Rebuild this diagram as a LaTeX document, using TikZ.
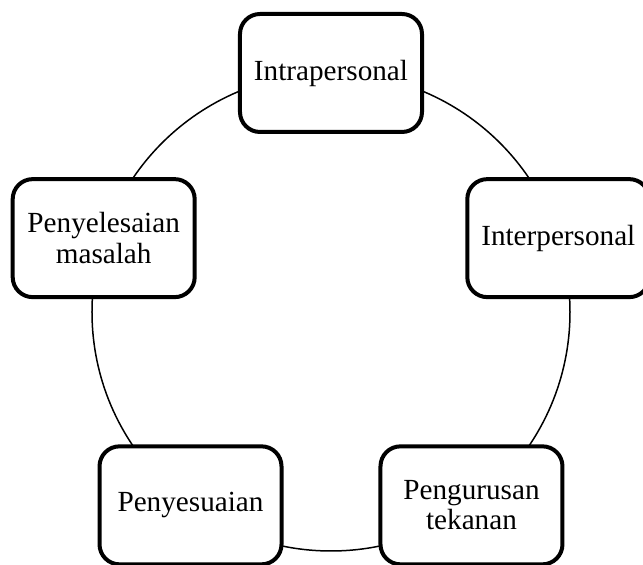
\documentclass[tikz,border=0pt]{standalone}
\usepackage{fontspec}
\setmainfont{Liberation Serif}
\usepackage{tikz}
\usetikzlibrary{positioning}
\tikzset{
    skill/.style={draw=black, fill=white, line width=2pt, rounded corners=10pt,
        minimum width=91pt, minimum height=59pt, align=center,
        font=\fontsize{14.6}{15.2}\selectfont},
    ring/.style={draw=black, line width=0.75pt},
}
\def\rad{119.5pt}

\begin{document}
\begin{tikzpicture}

\useasboundingbox (-165.5pt,-126.5pt) rectangle (156pt,156pt);

		\coordinate (centre) at (0,0);
		\draw[ring] (centre) circle (\rad);

		\node[skill] (intra) at (90:\rad) {Intrapersonal};
		\node[skill] (inter) at (18:\rad) {Interpersonal};
		\node[skill] (tekanan) at (-54:\rad) {Pengurusan\\tekanan};
		\node[skill] (suai) at (234:\rad) {Penyesuaian};
		\node[skill] (masalah) at (162:\rad) {Penyelesaian\\masalah};
		%\node at (0,0) {};
\end{tikzpicture}
\end{document}
